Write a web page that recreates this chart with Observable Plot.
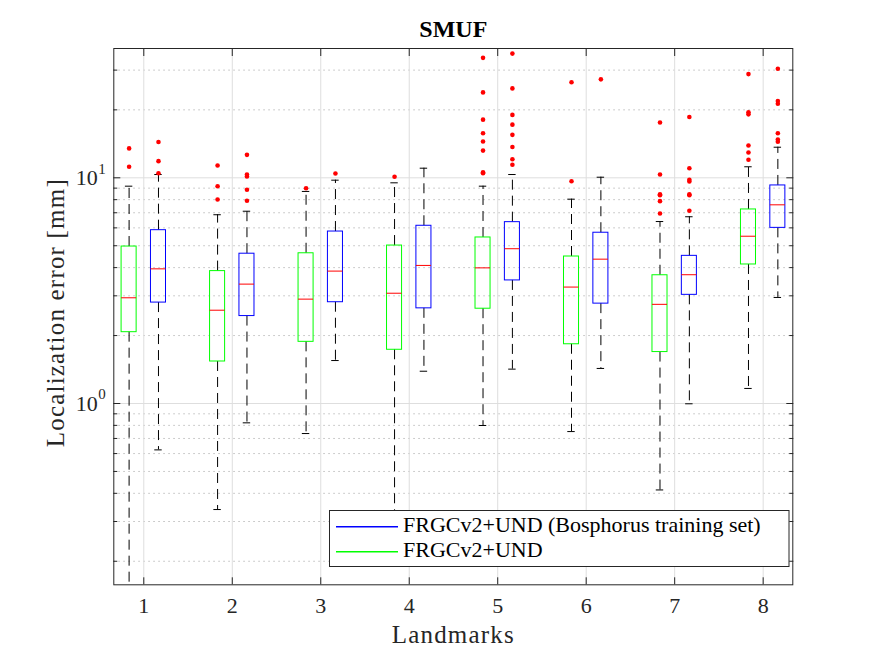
<!DOCTYPE html>
<html>
<head>
<meta charset="utf-8">
<script src="https://cdn.jsdelivr.net/npm/d3@7"></script>
<script src="https://cdn.jsdelivr.net/npm/@observablehq/plot@0.6"></script>
<style>
  body { margin: 0; background: #fff; }
  #wrap { position: relative; width: 875px; height: 657px; }
  #legend { position: absolute; left: 0; top: 0; pointer-events: none; }
</style>
</head>
<body>
<div id="wrap"></div>
<script>
// Landmark indices along the x axis
const landmarks = [1, 2, 3, 4, 5, 6, 7, 8];
const seriesNames = ["FRGCv2+UND (Bosphorus training set)", "FRGCv2+UND"];

// FRGCv2+UND — box statistics per landmark (mm)
const lowerA  = [0.14, 0.339, 0.736, 0.25, 0.799, 0.751, 0.414, 1.166];
const q1A     = [2.07, 1.535, 1.876, 1.73, 2.63, 1.83, 1.69, 4.13];
const medA    = [2.94, 2.59, 2.90, 3.08, 3.99, 3.28, 2.75, 5.51];
const q3A     = [4.96, 3.86, 4.63, 5.01, 5.44, 4.48, 3.70, 7.24];
const upperA  = [9.18, 6.86, 8.70, 9.5, 9.18, 8.04, 6.40, 11.19];
const outliersA = [
  [13.5, 11.2],
  [11.34, 9.18, 8.01],
  [8.99],
  [10.1],
  [34.0, 23.9, 18.1, 15.76, 14.48, 13.2, 10.59, 10.47],
  [26.5, 9.66],
  [17.58, 10.34, 8.46, 8.37, 7.88, 6.95],
  [28.8, 19.5, 19.1, 13.9, 12.94, 12.02]
];

// FRGCv2+UND (Bosphorus training set) — box statistics per landmark (mm)
const lowerB  = [0.623, 0.821, 1.55, 1.39, 1.42, 1.43, 0.997, 2.95];
const q1B     = [2.80, 2.44, 2.81, 2.64, 3.51, 2.77, 3.03, 6.00];
const medB    = [3.95, 3.38, 3.86, 4.09, 4.85, 4.36, 3.72, 7.59];
const q3B     = [5.86, 4.61, 5.78, 6.13, 6.36, 5.71, 4.51, 9.25];
const upperB  = [10.34, 7.11, 9.76, 11.03, 10.34, 10.06, 6.72, 13.66];
const outliersB = [
  [14.4, 11.85, 10.47],
  [12.64, 10.34, 10.13, 8.85, 7.91],
  [10.45],
  [],
  [35.5, 24.9, 19.0, 17.2, 15.5, 13.7, 12.09, 11.42],
  [27.3],
  [18.6, 11.03, 9.80, 9.63, 8.46, 8.37, 7.14],
  [30.4, 21.9, 21.3, 15.76, 14.78, 14.44]
];

// Axis tick values
const yMajor = [1, 10];
const yMinor = [0.2, 0.3, 0.4, 0.5, 0.6, 0.7, 0.8, 0.9, 2, 3, 4, 5, 6, 7, 8, 9, 20, 30];

// Layout of the grouped boxes
const shift = {[seriesNames[1]]: -0.166, [seriesNames[0]]: 0.166};
const halfBox = 0.085;
const halfCap = 0.042;

function buildRows(series, lo, q1, med, q3, hi) {
  return landmarks.map((l, i) => ({
    series, landmark: l, pos: l + shift[series],
    lower: lo[i], q1: q1[i], median: med[i], q3: q3[i], upper: hi[i]
  }));
}
function buildOutliers(series, outs) {
  return landmarks.flatMap((l, i) => outs[i].map(v => ({series, pos: l + shift[series], value: v})));
}

const boxes = [
  ...buildRows(seriesNames[1], lowerA, q1A, medA, q3A, upperA),
  ...buildRows(seriesNames[0], lowerB, q1B, medB, q3B, upperB)
];
const outliers = [
  ...buildOutliers(seriesNames[1], outliersA),
  ...buildOutliers(seriesNames[0], outliersB)
];

const axisColor = "#262626";
const serif = "'Liberation Serif', 'Times New Roman', serif";

const chart = Plot.plot({
  width: 875,
  height: 657,
  marginLeft: 113.3,
  marginRight: 82.7,
  marginTop: 48,
  marginBottom: 72.7,
  style: {fontFamily: serif, fontSize: "22px", background: "#fff", color: "#000"},
  x: {domain: [0.661, 8.335]},
  y: {type: "log", domain: [0.1573, 37.4]},
  color: {domain: seriesNames, range: ["#0000ff", "#00ff00"]},
  marks: [
    // grid
    Plot.ruleY(yMinor, {stroke: "#bdbdbd", strokeDasharray: "1.5,3.5"}),
    Plot.ruleY(yMajor, {stroke: "#dedede"}),
    Plot.ruleX(landmarks, {stroke: "#dedede"}),
    // whiskers
    Plot.ruleX(boxes, {x: "pos", y1: "q3", y2: "upper", stroke: "#000", strokeDasharray: "10,6"}),
    Plot.ruleX(boxes, {x: "pos", y1: "q1", y2: "lower", stroke: "#000", strokeDasharray: "10,6", clip: true}),
    Plot.ruleY(boxes, {y: "upper", x1: d => d.pos - halfCap, x2: d => d.pos + halfCap, stroke: "#000"}),
    Plot.ruleY(boxes, {y: "lower", x1: d => d.pos - halfCap, x2: d => d.pos + halfCap, stroke: "#000", clip: true}),
    // boxes
    Plot.rect(boxes, {x1: d => d.pos - halfBox, x2: d => d.pos + halfBox, y1: "q1", y2: "q3", fill: "none", stroke: "series"}),
    // medians
    Plot.ruleY(boxes, {y: "median", x1: d => d.pos - halfBox, x2: d => d.pos + halfBox, stroke: "#ff0000"}),
    // outliers
    Plot.dot(outliers, {x: "pos", y: "value", r: 2.3, fill: "#ff0000", stroke: null}),
    // frame and inward ticks
    Plot.frame({stroke: axisColor}),
    Plot.axisX({anchor: "bottom", ticks: landmarks, tickSize: -7, tickFormat: () => "", label: null, stroke: axisColor}),
    Plot.axisX({anchor: "top", ticks: landmarks, tickSize: -7, tickFormat: () => "", label: null, stroke: axisColor}),
    Plot.axisY({anchor: "left", ticks: yMajor, tickSize: -7, tickFormat: () => "", label: null, stroke: axisColor}),
    Plot.axisY({anchor: "left", ticks: yMinor, tickSize: -4, tickFormat: () => "", label: null, stroke: axisColor}),
    Plot.axisY({anchor: "right", ticks: yMajor, tickSize: -7, tickFormat: () => "", label: null, stroke: axisColor}),
    Plot.axisY({anchor: "right", ticks: yMinor, tickSize: -4, tickFormat: () => "", label: null, stroke: axisColor}),
    // tick labels
    Plot.text(landmarks, {x: d => d, text: d => String(d), frameAnchor: "bottom", textAnchor: "middle", lineAnchor: "top", dy: 13, fontSize: 22, fill: "#262626"}),
    Plot.text(yMajor, {y: d => d, text: () => "10", frameAnchor: "left", textAnchor: "end", lineAnchor: "middle", dx: -16, fontSize: 22, fill: "#262626"}),
    Plot.text(yMajor, {y: d => d, text: d => String(Math.round(Math.log10(d))), frameAnchor: "left", textAnchor: "start", lineAnchor: "middle", dx: -15.5, dy: -9, fontSize: 15, fill: "#262626"}),
    // axis titles and chart title
    Plot.text(["Landmarks"], {text: d => d, frameAnchor: "bottom", textAnchor: "middle", lineAnchor: "middle", dy: 50, fontSize: 25, fill: "#262626"}),
    Plot.text(["Localization error [mm]"], {text: d => d, frameAnchor: "left", textAnchor: "middle", lineAnchor: "middle", rotate: -90, dx: -58, dy: -4, fontSize: 25, fill: "#262626"}),
    Plot.text(["SMUF"], {text: d => d, frameAnchor: "top", textAnchor: "middle", lineAnchor: "middle", dy: -19, fontSize: 24, fontWeight: "bold", fill: "#000"})
  ]
});

// slightly wider letter spacing for the axis titles
d3.select(chart).selectAll("text").filter(function () {
  const t = this.textContent;
  return t === "Landmarks" || t === "Localization error [mm]";
}).attr("letter-spacing", "1.2px");

const wrap = document.getElementById("wrap");
wrap.appendChild(chart);

// legend box inside the axes
const colorOf = {[seriesNames[0]]: "#0000ff", [seriesNames[1]]: "#00ff00"};
const legend = d3.create("svg")
  .attr("id", "legend")
  .attr("width", 875).attr("height", 657);
legend.append("rect")
  .attr("x", 329.5).attr("y", 510.5).attr("width", 459.5).attr("height", 56)
  .attr("fill", "#fff").attr("stroke", axisColor);
seriesNames.forEach((name, i) => {
  const cy = 526 + i * 25;
  legend.append("rect")
    .attr("x", 336).attr("y", cy).attr("width", 62).attr("height", 1.5)
    .attr("fill", colorOf[name]);
  legend.append("text")
    .attr("x", 403).attr("y", cy + 5.5)
    .attr("font-family", serif).attr("font-size", 22).attr("fill", "#000")
    .text(name);
});
wrap.appendChild(legend.node());
</script>
</body>
</html>
